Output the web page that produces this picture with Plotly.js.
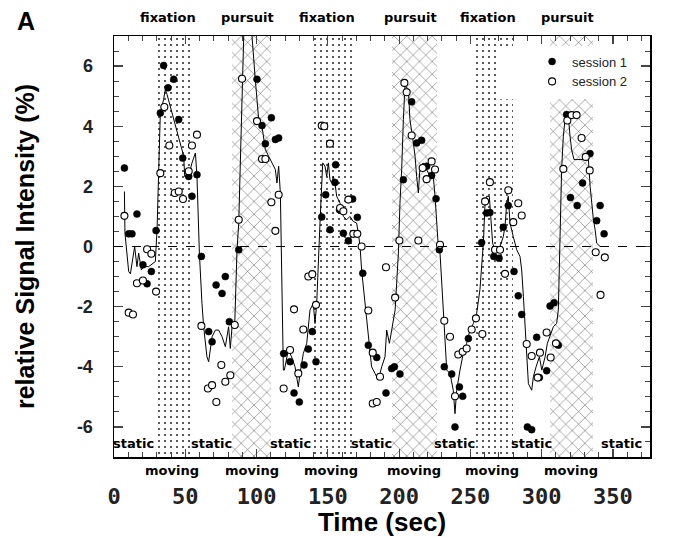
<!DOCTYPE html>
<html>
<head>
<meta charset="utf-8">
<script src="https://cdn.plot.ly/plotly-3.0.1.min.js"></script>
<style>html,body{margin:0;padding:0;background:#fff}#chart{width:679px;height:537px}</style>
</head>
<body>
<div id="chart"></div>
<script>
// ---- data ----
const fixStart = [27.8, 137.5, 250.9];
const fixEnd   = [54.0, 166.7, 280.1];
const purStart = [82.8, 194.8, 305.8];
const purEnd   = [110.4, 226.3, 335.8];

const lineT = [7.3,7.7,10.3,11.5,14.5,16.1,17.3,19.2,20.8,24.3,29.0,30.2,31.3,32.5,34.8,36.0,37.2,48.9,49.6,52.4,54.7,57.1,58.2,59.9,61.7,62.9,65.2,66.4,68.8,71.1,73.4,75.8,78.1,80.4,81.6,82.8,84.7,86.3,87.5,88.6,89.8,91.0,93.3,96.8,99.1,101.5,103.8,105.0,106.2,108.5,110.8,113.2,114.3,115.5,116.7,
118.8,119.5,122.3,124.6,127.0,129.3,130.5,132.8,135.2,137.5,139.8,141.0,141.7,142.2,144.5,146.4,148.0,149.2,150.4,151.5,152.7,153.9,155.0,156.2,158.6,160.9,163.2,165.5,167.9,170.2,171.4,172.6,173.7,176.1,178.4,180.7,183.1,185.4,187.8,190.1,191.3,193.2,194.8,197.2,198.3,199.5,200.6,201.8,203.0,204.1,206.5,207.6,210.0,211.2,212.3,213.5,214.7,217.0,219.3,221.7,224.0,225.2,227.5,228.7,231.0,233.4,
235.7,238.0,239.2,240.4,242.7,245.0,247.4,249.7,252.1,254.4,256.7,259.1,260.3,261.4,263.3,264.2,265.6,267.3,269.6,270.8,273.1,274.3,275.5,276.6,277.8,280.1,282.5,284.8,286.0,287.2,288.3,289.5,290.7,293.0,294.2,296.1,297.0,298.4,300.1,302.4,304.0,305.9,308.2,310.5,311.7,312.9,314.0,315.2,316.4,317.5,318.7,319.9,321.0,322.7,332.8,334.0,335.1,336.3,337.5,338.6,341.0];
const lineV = [1.83,0.44,-0.83,-0.91,0.0,-0.67,-0.22,-0.78,-0.67,-0.67,-0.5,0.56,2.44,4.44,4.89,5.22,5.06,3.0,2.33,2.33,2.78,3.11,2.33,-0.22,-1.89,-2.67,-3.67,-3.83,-3.0,-2.78,-2.78,-3.0,-3.33,-2.67,-3.39,-2.67,-2.56,-0.11,0.78,2.56,5.33,7.0,7.9,7.0,5.56,4.22,4.0,3.56,3.22,3.0,2.78,2.56,2.11,2.67,1.78,
-4.11,-4.11,-3.44,-3.67,-4.0,-4.67,-4.22,-3.56,-3.22,-2.11,-1.89,-2.56,-2.0,-1.89,0.78,2.78,2.67,2.33,2.78,2.22,2.11,2.33,2.11,1.67,1.44,1.0,0.89,1.0,0.83,0.78,0.44,0.0,-0.78,-1.89,-3.0,-4.0,-4.22,-4.44,-4.0,-3.67,-2.78,-3.22,-2.78,-2.11,-1.22,-0.22,1.44,2.56,4.22,5.33,5.22,4.22,3.44,3.0,2.33,1.78,2.67,2.78,2.56,2.33,2.33,1.67,0.0,-0.22,-2.11,-4.11,
-4.22,-4.78,-5.56,-4.78,-4.11,-3.56,-3.22,-2.78,-2.56,-2.22,-1.44,0.11,1.44,1.67,1.67,1.11,0.11,-0.11,-0.11,0.0,0.33,0.67,1.44,1.67,0.78,0.33,-0.11,-0.33,-0.78,-1.67,-2.56,-3.67,-4.56,-4.78,-4.33,-4.0,-3.89,-3.67,-4.11,-3.67,-3.22,-3.0,-2.67,-2.56,-2.11,0.33,2.56,3.67,4.22,4.44,4.33,3.67,3.22,2.89,2.89,2.0,1.44,0.89,0.56,0.11,0.0];

const s1T = [7.3,10.3,12.6,16.1,20.3,23.2,26.2,29.5,32.5,34.8,37.9,41.9,45.4,48.2,52.4,54.7,58.2,61.3,66.4,68.8,71.6,75.8,78.1,80.9,87.5,100.3,103.8,106.2,110.4,113.2,115.5,119.0,
123.5,126.3,130.0,133.3,136.3,139.1,141.7,145.7,148.5,151.5,155.5,155.0,158.2,160.9,164.4,167.4,170.7,174.5,178.4,184.3,190.8,194.8,196.7,200.6,203.0,208.8,212.3,215.8,219.3,222.8,225.9,228.2,231.7,
236.9,239.2,242.3,244.6,248.6,257.9,261.4,263.7,266.4,270.1,273.1,276.6,280.6,283.6,286.0,290.0,293.0,296.5,298.4,303.5,305.9,308.7,311.7,317.5,320.2,324.9,328.7,333.9,338.6,341.0,343.8];
const s1V = [2.61,0.42,0.42,1.08,-0.61,-1.24,-0.83,0.53,4.44,6.02,5.28,5.56,4.22,2.94,2.33,1.67,2.39,-0.33,-2.83,-3.17,-1.28,-1.56,-1.0,-2.5,-0.11,5.56,4.02,3.42,4.28,3.56,3.61,-3.56,
-3.83,-4.87,-5.17,-3.94,-3.41,-2.83,-3.83,0.98,1.72,0.56,2.72,2.13,1.22,0.44,0.19,1.58,0.97,-0.89,-3.28,-3.69,-4.87,-4.06,-4.0,-4.24,2.22,4.81,3.44,3.53,2.67,2.36,1.59,-0.11,-4.0,
-4.24,-6.0,-4.67,-4.98,-3.06,0.13,1.11,1.13,-0.33,-0.39,0.64,1.36,-0.83,-1.64,-2.26,-6.0,-6.09,-3.02,-4.36,-4.13,-1.98,-1.87,-3.28,4.39,1.63,1.36,2.11,3.09,0.86,1.36,0.42];

const s2T = [7.3,10.3,13.3,16.1,20.3,23.2,26.2,29.5,32.5,35.3,38.8,42.6,45.4,48.4,52.4,54.7,58.2,61.3,65.9,68.8,71.8,75.3,78.1,81.6,84.7,87.5,89.8,100.3,103.8,106.2,110.4,113.2,115.5,119.0,
123.5,126.3,129.3,132.8,136.3,139.1,141.7,145.7,147.5,151.5,158.6,160.9,164.4,167.9,170.7,173.7,178.4,181.5,186.6,181.5,184.3,190.8,197.2,200.2,203.7,205.3,208.8,213.5,216.5,219.3,222.8,225.2,228.7,231.7,
235.7,239.2,241.5,244.6,247.4,250.9,253.9,258.4,260.3,263.7,267.3,270.8,274.3,276.6,280.1,283.6,286.0,289.5,293.0,297.2,298.8,303.5,306.3,310.0,315.2,318.0,321.0,324.5,328.0,330.9,333.7,337.9,344.3,341.3];
const s2V = [1.02,-2.2,-2.26,-1.22,-1.13,-0.09,-0.24,-1.5,2.44,4.64,3.36,1.78,1.83,1.58,2.5,3.36,3.72,-2.64,-4.72,-4.61,-5.17,-3.94,-4.5,-4.28,-2.61,0.89,5.58,4.17,2.91,2.91,1.47,0.52,1.72,-4.72,
-3.44,-2.09,-4.22,-2.76,-1.0,-0.92,-1.94,4.02,4.0,3.42,1.28,1.17,1.56,0.42,0.42,0.0,-2.13,-3.53,-4.33,-5.22,-5.17,-0.69,-1.7,0.2,5.44,5.13,3.69,0.2,2.61,2.24,2.83,2.56,0.06,-2.47,
-3.0,-4.98,-3.59,-3.5,-3.39,-2.76,-2.39,-2.91,1.5,2.14,-0.11,-0.11,-0.91,1.87,0.81,1.44,1.03,-3.24,-3.64,-4.36,-3.53,-2.86,-3.69,-3.22,2.58,4.19,4.37,4.37,3.61,2.98,2.53,-0.19,-0.36,-1.61];

const xTickVals = [0,50,100,150,200,250,300,350];
const xTickText = ['0','50','100','150','200','250','300','350'];
const yTickVals = [-6,-4,-2,0,2,4,6];
const yTickText = ['-6','-4','-2','0','2','4','6'];
const seriesNames = ['session 1','session 2'];
const fixLabel = 'fixation', purLabel = 'pursuit', staticLabel = 'static', movingLabel = 'moving';

// ---- derived ----
const X_MAX = 376, Y_MIN = -7, Y_MAX = 7;
const mid = (a,b)=> (a+b)/2;
const fixC = fixStart.map((s,i)=>mid(s,fixEnd[i])), fixW = fixStart.map((s,i)=>fixEnd[i]-s);
const purC = purStart.map((s,i)=>mid(s,purEnd[i])), purW = purStart.map((s,i)=>purEnd[i]-s);

const bandFix = {type:'bar', x:fixC, width:fixW, y:fixC.map(()=>Y_MAX-Y_MIN+1), base:fixC.map(()=>Y_MIN-0.5),
  marker:{color:'white', line:{width:0}, pattern:{shape:'.', fgcolor:'#222', bgcolor:'white', size:6, solidity:0.09}},
  showlegend:false, hoverinfo:'skip'};
const bandPur = {type:'bar', x:purC, width:purW, y:purC.map(()=>Y_MAX-Y_MIN+1), base:purC.map(()=>Y_MIN-0.5),
  marker:{color:'white', line:{width:0}, pattern:{shape:'x', fgcolor:'#444', bgcolor:'white', size:9, solidity:0.1}},
  showlegend:false, hoverinfo:'skip'};

const lineTr = {type:'scatter', mode:'lines', x:lineT, y:lineV, line:{color:'black', width:1}, showlegend:false, hoverinfo:'skip'};
const s1Tr = {type:'scatter', mode:'markers', name:seriesNames[0], x:s1T, y:s1V,
  marker:{symbol:'circle', size:7, color:'black', line:{color:'black', width:0.5}}};
const s2Tr = {type:'scatter', mode:'markers', name:seriesNames[1], x:s2T, y:s2V,
  marker:{symbol:'circle', size:7, color:'white', line:{color:'black', width:1.1}}};

const labFont = {family:'DejaVu Sans', size:13, color:'black', weight:'bold'};
const ann = [];
const blocks = [];
fixC.forEach(c=>blocks.push([c,fixLabel])); purC.forEach(c=>blocks.push([c,purLabel]));
blocks.forEach(([c,t])=>ann.push({x:c, y:1.045, xref:'x', yref:'paper', text:t, showarrow:false, font:labFont,
  xshift:-4, xanchor:'center', yanchor:'middle'}));
fixC.concat(purC).forEach(c=>ann.push({x:c, y:-0.033, xref:'x', yref:'paper', text:movingLabel, showarrow:false, font:labFont,
  xanchor:'center', yanchor:'middle'}));
const allS = fixStart.concat(purStart).sort((a,b)=>a-b);
const allE = fixEnd.concat(purEnd).sort((a,b)=>a-b);
const gapS = [0].concat(allE), gapE = allS.concat([X_MAX]);
gapS.forEach((s,i)=>ann.push({x:mid(s,gapE[i]), y:0.033, xref:'x', yref:'paper', text:staticLabel, showarrow:false, font:labFont,
  xanchor:'center', yanchor:'middle'}));
ann.push({x:-0.165, y:1.035, xref:'paper', yref:'paper', text:'A', showarrow:false, xanchor:'center', yanchor:'middle',
  font:{family:'Liberation Sans', size:25, color:'black', weight:'bold'}});

const layout = {
  width:679, height:537,
  margin:{l:114, r:29, t:36, b:80},
  paper_bgcolor:'white', plot_bgcolor:'white',
  barmode:'overlay', bargap:0,
  xaxis:{range:[0,X_MAX], tickvals:xTickVals, ticktext:xTickText, ticks:'inside', ticklen:8, tickwidth:1.2,
    minor:{dtick:10, ticks:'inside', ticklen:5, tickwidth:1, tick0:0},
    showline:true, linecolor:'black', linewidth:1.5, mirror:'ticks', showgrid:false, zeroline:false,
    ticklabelstandoff:19,
    tickfont:{family:'DejaVu Sans Mono', size:22, color:'#222', weight:'bold'},
    title:{text:'Time (sec)', font:{family:'Liberation Sans', size:26, color:'black', weight:'bold'}, standoff:8}},
  yaxis:{range:[Y_MIN,Y_MAX], tickvals:yTickVals, ticktext:yTickText, ticks:'inside', ticklen:9, tickwidth:1.2,
    minor:{dtick:0.5, ticks:'inside', ticklen:5, tickwidth:1},
    showline:true, linecolor:'black', linewidth:1.5, mirror:'ticks', showgrid:false, zeroline:false,
    ticklabelstandoff:16,
    tickfont:{family:'Liberation Sans', size:18, color:'#222', weight:'bold'},
    title:{text:'relative Signal Intensity (%)', font:{family:'Liberation Sans', size:25, color:'black', weight:'bold'}, standoff:35}},
  legend:{x:0.78, y:0.975, xanchor:'left', yanchor:'top', bgcolor:'rgba(0,0,0,0)', borderwidth:0,
    font:{family:'Liberation Sans', size:13, color:'#222'}, itemwidth:30},
  shapes:[
    {type:'rect', xref:'paper', yref:'paper', x0:0.72, x1:0.975, y0:0.85, y1:0.976, fillcolor:'white', line:{width:0}, layer:'above'},
    {type:'line', xref:'paper', yref:'y', x0:0, x1:1, y0:0, y1:0, line:{color:'black', width:1, dash:'dash'}, layer:'above'}
  ],
  annotations:ann,
  showlegend:true
};

Plotly.newPlot('chart', [bandFix, bandPur, lineTr, s1Tr, s2Tr], layout, {displayModeBar:false, staticPlot:true});
</script>
</body>
</html>
